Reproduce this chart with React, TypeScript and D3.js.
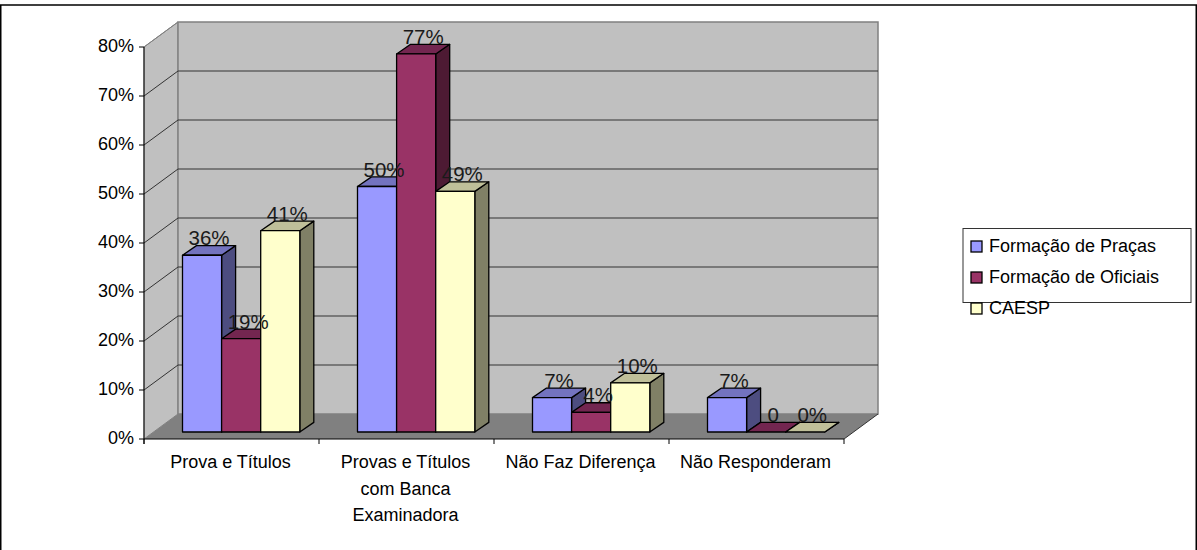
import React from "react";
import * as d3 from "d3";

const categories = [["Prova e Títulos"], ["Provas e Títulos", "com Banca", "Examinadora"], ["Não Faz Diferença"], ["Não Responderam"]];
const seriesNames = ["Formação de Praças", "Formação de Oficiais", "CAESP"];
const praca = [36, 50, 7, 7];
const oficiais = [19, 77, 4, 0];
const caesp = [41, 49, 10, 0];
const labelsPraca = ["36%", "50%", "7%", "7%"];
const labelsOficiais = ["19%", "77%", "4%", "0"];
const labelsCaesp = ["41%", "49%", "10%", "0%"];
const yTicks = [0, 10, 20, 30, 40, 50, 60, 70, 80];
const fills = ["#9999FF", "#993366", "#FFFFCC"];
const tops = ["#7373BF", "#732650", "#BFBF99"];
const sides = ["#4D4D80", "#4D1A33", "#808066"];

const FONT = "'Liberation Sans', Arial, sans-serif";
const W = 1197, H = 550;
const x0 = 144, x1 = 844;
const dx = 34, dy = -25;
const y = d3.scaleLinear().domain([0, 80]).range([439, 47]);
const xCat = d3.scaleBand<number>().domain([0, 1, 2, 3]).range([x0, x1]);
const barW = 39.1;
const barStart = 38.5;
const barDX = 14, barDY = -9.6;
const barBase = 432;
const h = d3.scaleLinear().domain([0, 100]).range([0, 491]);
const poly = (p: number[][]) => "M" + p.map((q) => q.join(",")).join("L") + "Z";

export default function App() {
  const series = [praca, oficiais, caesp];
  const labels = [labelsPraca, labelsOficiais, labelsCaesp];
  return (
    <svg width={W} height={H} style={{ display: "block", position: "absolute", left: 0, top: 0, background: "#fff", fontFamily: FONT }}>
      <rect x={0.75} y={5} width={1195.5} height={H} fill="#fff" stroke="#000" strokeWidth={1.5} />
      <path d={poly([[x0, y(0)], [x0 + dx, y(0) + dy], [x0 + dx, y(80) + dy], [x0, y(80)]])} fill="#C0C0C0" stroke="#808080" strokeWidth={1} />
      <rect x={x0 + dx} y={y(80) + dy} width={x1 - x0} height={y(0) - y(80)} fill="#C0C0C0" stroke="#808080" strokeWidth={1.5} />
      <path d={poly([[x0, y(0)], [x0 + dx, y(0) + dy], [x1 + dx, y(0) + dy], [x1, y(0)]])} fill="#808080" />
      {yTicks.slice(1, -1).map((t) => (
        <path key={t} d={`M${x0},${y(t)}L${x0 + dx},${y(t) + dy}L${x1 + dx},${y(t) + dy}`} fill="none" stroke="#333" strokeWidth={1} />
      ))}
      <path d={`M${x0},${y(80)}L${x0 + dx},${y(80) + dy}`} stroke="#808080" fill="none" />
      <line x1={x0} x2={x0} y1={y(80)} y2={y(0) + 5} stroke="#000" />
      <line x1={x0} x2={x1} y1={y(0)} y2={y(0)} stroke="#000" />
      <line x1={x1} x2={x1 + dx} y1={y(0)} y2={y(0) + dy} stroke="#333" />
      {yTicks.map((t) => (
        <g key={t}>
          <line x1={x0 - 5} x2={x0} y1={y(t)} y2={y(t)} stroke="#000" />
          <text x={x0 - 10} y={y(t) + 5} textAnchor="end" fontSize={18} fill="#000">{t}%</text>
        </g>
      ))}
      {[0, 1, 2, 3, 4].map((i) => (
        <line key={i} x1={x0 + i * xCat.step()} x2={x0 + i * xCat.step()} y1={y(0)} y2={y(0) + 5} stroke="#000" />
      ))}
      {categories.map((lines, i) => (
        <text key={i} textAnchor="middle" fontSize={18} fill="#000">
          {lines.map((l, j) => (
            <tspan key={j} x={xCat(i)! + xCat.step() / 2 - 1} y={468 + j * 26.5}>{l}</tspan>
          ))}
        </text>
      ))}
      {categories.map((_, c) =>
        series.map((vals, s) => {
          const bx = xCat(c)! + barStart + s * barW;
          const top = barBase - h(vals[c]);
          return (
            <g key={`${c}-${s}`} stroke="#000" strokeWidth={1.3} strokeLinejoin="round">
              <path d={poly([[bx + barW, barBase], [bx + barW + barDX, barBase + barDY], [bx + barW + barDX, top + barDY], [bx + barW, top]])} fill={sides[s]} />
              <path d={poly([[bx, top], [bx + barDX, top + barDY], [bx + barW + barDX, top + barDY], [bx + barW, top]])} fill={tops[s]} />
              <rect x={bx} y={top} width={barW} height={barBase - top} fill={fills[s]} />
            </g>
          );
        })
      )}
      {categories.map((_, c) =>
        series.map((vals, s) => (
          <text key={`${c}-${s}`} x={xCat(c)! + barStart + s * barW + barW / 2 + 7} y={barBase - h(vals[c]) - 10} textAnchor="middle" fontSize={20.5} fill="#1a1a1a">
            {labels[s][c]}
          </text>
        ))
      )}
      <rect x={963} y={228.5} width={228} height={74} fill="#fff" stroke="#333" strokeWidth={1} />
      {seriesNames.map((n, i) => (
        <g key={n}>
          <rect x={971} y={241 + i * 31} width={11} height={11} fill={fills[i]} stroke="#000" strokeWidth={1.3} />
          <text x={989} y={252 + i * 31} fontSize={18} fill="#000">{n}</text>
        </g>
      ))}
    </svg>
  );
}
